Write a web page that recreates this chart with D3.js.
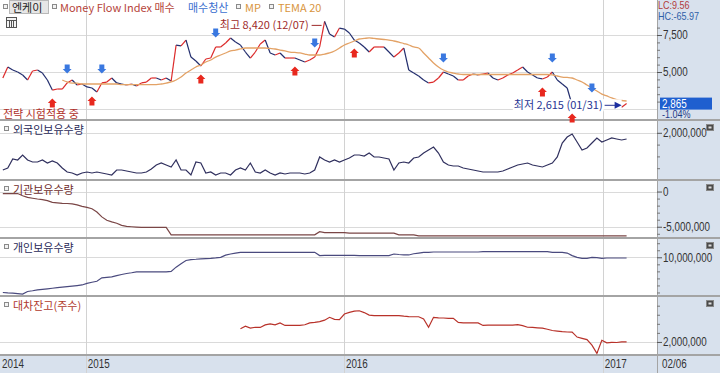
<!DOCTYPE html>
<html>
<head>
<meta charset="utf-8">
<script src="https://cdn.jsdelivr.net/npm/d3@7"></script>
<style>
  body { margin: 0; background: #fff; }
  svg { display: block; }
  .kr { font-family: "Noto Sans CJK KR", sans-serif; font-size: 11px; }
  .num { font-family: "Liberation Sans", sans-serif; font-size: 12px; }
</style>
</head>
<body>
<svg id="chart" width="720" height="373"></svg>
<script>
// weekly closes of 엔케이, last week ends 2017-02-03
const closes = [
  4595, 5340, 5135, 5000, 4800, 4460, 5070, 5135, 4930, 4460,
  3780, 3850, 3850, 4260, 4460, 4120, 4190, 3990, 3920, 3650,
  4260, 4320, 4595, 4260, 4190, 4120, 4190, 4050, 4260, 4320,
  4595, 4595, 4460, 4595, 4390, 6820, 6760, 7160, 6010, 5740,
  5405, 5880, 5945, 6690, 6690, 6960, 7300, 7030, 6820, 6350,
  5945, 6350, 6890, 7160, 6285, 6150, 6285, 5945, 5945, 5945,
  5810, 5675, 5810, 6010, 6690, 8420, 7570, 7365, 7970, 7900,
  7635, 7160, 6960, 6690, 6350, 6690, 6690, 6690, 6350, 6010,
  6285, 6620, 5135, 4930, 4730, 4460, 4260, 4320, 4595, 5000,
  4865, 4730, 4460, 4460, 4730, 4865, 4800, 4865, 4930, 4595,
  4460, 4595, 4800, 4930, 5135, 5340, 5000, 4800, 4595, 4530,
  4660, 5000, 4460, 4190, 3920, 2770, 2970, 3040, 2905, 2970,
  3040, 2840, 2905, 2840, 2760, 2615, 2865
];

// TEMA 20 (starts after warm-up)
const tema = Array(12).fill(null).concat([
  4460, 4325, 4255, 4255, 4190, 4190, 4190, 4190, 4190, 4190,
  4190, 4190, 4150, 4150, 4150, 4150, 4150, 4150, 4150, 4150,
  4190, 4255, 4325, 4460, 4660, 4930, 5135, 5340, 5475, 5675,
  5810, 6010, 6150, 6285, 6420, 6485, 6555, 6620, 6620, 6620,
  6620, 6620, 6590, 6555, 6485, 6420, 6350, 6320, 6285, 6215,
  6150, 6150, 6150, 6215, 6285, 6420, 6620, 6825, 6960, 7095,
  7230, 7265, 7300, 7265, 7230, 7195, 7160, 7095, 7025, 6925,
  6825, 6690, 6620, 6285, 5945, 5610, 5340, 5135, 5000, 4930,
  4865, 4830, 4830, 4830, 4830, 4830, 4830, 4830, 4830, 4830,
  4830, 4830, 4830, 4830, 4830, 4830, 4830, 4830, 4830, 4800,
  4730, 4660, 4630, 4595, 4460, 4325, 4120, 3920, 3715, 3510,
  3380, 3245, 3140, 3075, 3040
]);

const foreignHold = [
  424000, 508000, 890000, 847000, 1059000, 847000, 763000, 763000, 847000, 720000,
  805000, 720000, 508000, 339000, 297000, 212000, 297000, 339000, 297000, 339000,
  297000, 254000, 212000, 424000, 424000, 381000, 339000, 297000, 297000, 339000,
  466000, 636000, 720000, 636000, 551000, 847000, 424000, 424000, 212000, 763000,
  720000, 297000, 339000, 212000, 297000, 297000, 212000, 424000, 508000, 424000,
  720000, 339000, 297000, 424000, 297000, 212000, 297000, 254000, 297000, 297000,
  297000, 254000, 297000, 424000, 975000, 847000, 763000, 847000, 763000, 847000,
  932000, 1059000, 1059000, 1017000, 1144000, 975000, 975000, 932000, 890000, 424000,
  720000, 763000, 720000, 932000, 975000, 1144000, 1271000, 1398000, 1144000, 763000,
  636000, 593000, 593000, 508000, 466000, 424000, 381000, 339000, 339000, 339000,
  339000, 381000, 466000, 551000, 636000, 678000, 720000, 636000, 593000, 551000,
  636000, 720000, 975000, 1568000, 1822000, 1950000, 1610000, 1271000, 1356000, 1568000,
  1780000, 1610000, 1695000, 1780000, 1737000, 1695000, 1737000
];

const instHold = [
  -280000, -280000, -280000, -280000, -600000, -830000, -950000, -1060000, -1150000, -1300000,
  -1530000, -1600000, -1670000, -1700000, -1750000, -1900000, -2100000, -2250000, -2450000, -2900000,
  -3600000, -4070000, -4300000, -4500000, -4800000, -4950000, -5000000, -5050000, -5100000, -5100000,
  -5100000, -5100000, -5100000, -5100000, -6150000, -6150000, -6150000, -6150000, -6150000, -6150000,
  -6150000, -6150000, -6150000, -6150000, -6150000, -6150000, -6150000, -6150000, -6150000, -6150000,
  -6150000, -6150000, -6150000, -6150000, -6150000, -6150000, -6150000, -6150000, -6150000, -6150000,
  -6150000, -6150000, -6150000, -6150000, -5700000, -5830000, -5830000, -5830000, -5830000, -5830000,
  -5920000, -5920000, -5920000, -5920000, -5920000, -5920000, -5920000, -5920000, -5920000, -5920000,
  -6150000, -6150000, -6150000, -6150000, -6300000, -6300000, -6300000, -6300000, -6300000, -6300000,
  -6300000, -6300000, -6300000, -6300000, -6300000, -6300000, -6300000, -6300000, -6300000, -6300000,
  -6300000, -6300000, -6300000, -6300000, -6300000, -6300000, -6300000, -6300000, -6300000, -6300000,
  -6300000, -6300000, -6300000, -6300000, -6300000, -6300000, -6300000, -6300000, -6300000, -6300000,
  -6300000, -6300000, -6300000, -6300000, -6300000, -6300000, -6300000
];

const indivHold = [
  5000000, 4950000, 4920000, 4850000, 4780000, 5140000, 5250000, 5380000, 5450000, 5520000,
  5600000, 5680000, 5750000, 5830000, 5900000, 5980000, 6070000, 6300000, 6450000, 6600000,
  7080000, 7150000, 7220000, 7400000, 7550000, 7700000, 7800000, 7920000, 7920000, 7920000,
  7920000, 7920000, 7920000, 7920000, 8000000, 8600000, 9080000, 9540000, 9680000, 9720000,
  9780000, 9820000, 9860000, 9920000, 10000000, 10300000, 10470000, 10600000, 10700000, 10700000,
  10700000, 10700000, 10700000, 10700000, 10700000, 10700000, 10700000, 10700000, 10700000, 10700000,
  10700000, 10700000, 10700000, 10700000, 10240000, 10280000, 10280000, 10280000, 10280000, 10280000,
  10280000, 10280000, 10240000, 10240000, 10240000, 10240000, 10240000, 10240000, 10240000, 10470000,
  10400000, 10350000, 10330000, 10500000, 10600000, 10700000, 10700000, 10750000, 10750000, 10750000,
  10750000, 10750000, 10750000, 10750000, 10750000, 10750000, 10750000, 10800000, 10800000, 10800000,
  10800000, 10800000, 10800000, 10800000, 10800000, 10800000, 10800000, 10800000, 10800000, 10800000,
  10800000, 10700000, 10700000, 10700000, 10600000, 10240000, 10000000, 9860000, 9860000, 10000000,
  9950000, 9860000, 9900000, 9900000, 9900000, 9900000, 9900000
];

// 대차잔고 starts in Aug 2015
const lendBal = Array(48).fill(null).concat([
  2730000, 2870000, 2760000, 2810000, 2800000, 2940000, 3000000, 2940000, 3050000, 2910000,
  2910000, 2920000, 2910000, 2950000, 3050000, 3080000, 3120000, 3200000, 3360000, 3250000,
  3230000, 3540000, 3630000, 3700000, 3720000, 3620000, 3480000, 3450000, 3450000, 3450000,
  3450000, 3450000, 3450000, 3420000, 3400000, 3390000, 3390000, 3270000, 2810000, 3360000,
  3330000, 3320000, 3300000, 3300000, 3080000, 3050000, 3050000, 3050000, 3050000, 2910000,
  2930000, 2930000, 2930000, 2930000, 2930000, 2930000, 2960000, 2900000, 2810000, 2800000,
  2780000, 2760000, 2700000, 2630000, 2600000, 2570000, 2550000, 2540000, 2270000, 2200000,
  2130000, 1820000, 1370000, 2090000, 1950000, 1980000, 1970000, 2000000, 2000000
]);

const buyIdx = [10, 18, 40, 59, 71, 109, 115];   // Money Flow Index 매수
const sellIdx = [13, 20, 43, 63, 89, 111, 119];  // 매수청산
const yearTicks = [2015, 2016, 2017];
const priceTicks = [5000, 7500];
const lastDate = new Date(2017, 1, 3);
const dates = closes.map((_, i) => d3.timeDay.offset(lastDate, -7 * (closes.length - 1 - i)));

const svg = d3.select("#chart");
const W = 720, H = 373, plotR = 657;
const fmt = v => d3.format(",")(v).replace("\u2212", "-");

const x = d3.scaleTime()
  .domain([new Date(2014, 8, 1), new Date(2017, 2, 18)])
  .range([0, plotR]);

const yPrice = d3.scaleLinear().domain([2500, 7500]).range([109, 35]);
const yForeign = d3.scaleLinear().domain([0, 2500000]).range([180, 121]);
const yInst = d3.scaleLinear().domain([-6600000, 1500000]).range([238, 181]);
const yIndiv = d3.scaleLinear().domain([4500000, 12600000]).range([296, 239]);
const yLend = d3.scaleLinear().domain([1280000, 4480000]).range([355, 297]);

const panels = [
  { top: 0, bottom: 120, y: yPrice, grid: [2500, 5000, 7500] },
  { top: 121, bottom: 180, y: yForeign, grid: [2000000], title: "외국인보유수량", tc: "#2a2a58" },
  { top: 181, bottom: 238, y: yInst, grid: [0, -5000000], title: "기관보유수량", tc: "#6e2c2c" },
  { top: 239, bottom: 296, y: yIndiv, grid: [10000000], title: "개인보유수량", tc: "#2a2a58" },
  { top: 297, bottom: 355, y: yLend, grid: [2000000], title: "대차잔고(주수)", tc: "#b0392c" }
];

// backgrounds
svg.append("rect").attr("x", plotR).attr("y", 0).attr("width", W - plotR).attr("height", H).attr("fill", "#d8e1ed");
svg.append("rect").attr("x", 0).attr("y", 355).attr("width", W).attr("height", H - 355).attr("fill", "#d8e1ed");

// grid lines
panels.forEach(p => {
  const g = svg.append("g").attr("stroke", "#dadada").attr("stroke-width", 1);
  p.grid.forEach(v => {
    g.append("line").attr("x1", 0).attr("x2", plotR)
      .attr("y1", Math.round(p.y(v)) + 0.5).attr("y2", Math.round(p.y(v)) + 0.5);
  });
});
yearTicks.forEach(yr => {
  const xx = Math.round(x(new Date(yr, 0, 1))) + 0.5;
  svg.append("line").attr("x1", xx).attr("x2", xx).attr("y1", 0).attr("y2", H)
    .attr("stroke", "#d2d2d2");
});

// panel borders
[120, 180, 238, 296, 355].forEach(yy => {
  svg.append("line").attr("x1", 0).attr("x2", W).attr("y1", yy).attr("y2", yy)
    .attr("stroke", "#a4a4a4").attr("stroke-width", 2);
});
svg.append("line").attr("x1", plotR + 0.5).attr("x2", plotR + 0.5).attr("y1", 0).attr("y2", H)
  .attr("stroke", "#a4a4a4");

// right axes
function rightAxis(scale, values, minor) {
  const g = svg.append("g").attr("transform", `translate(${plotR},0)`);
  g.append("g").call(d3.axisRight(scale).tickValues(minor).tickSize(3).tickFormat(""))
    .call(a => a.select(".domain").remove())
    .selectAll("line").attr("stroke", "#777");
  g.append("g").attr("class", "num")
    .call(d3.axisRight(scale).tickValues(values).tickSize(5).tickPadding(1).tickFormat(fmt))
    .call(a => a.select(".domain").remove())
    .call(a => a.selectAll("line").attr("stroke", "#555"))
    .call(a => a.selectAll("text").attr("fill", "#333").style("font-size", "12px")
      .style("font-family", '"Liberation Sans", sans-serif'));
}
rightAxis(yPrice, priceTicks, d3.range(3000, 8500, 500));
rightAxis(yForeign, [2000000], [500000, 1000000, 1500000]);
rightAxis(yInst, [0, -5000000], [-4000000, -3000000, -2000000, -1000000, -6000000]);
rightAxis(yIndiv, [10000000], [5000000, 6000000, 7000000, 8000000, 9000000, 11000000, 12000000]);
rightAxis(yLend, [2000000], [2500000, 3000000, 3500000, 4000000]);

// price line: segments coloured by direction like candles
svg.append("g").selectAll("line")
  .data(d3.pairs(d3.range(closes.length)))
  .join("line")
  .attr("x1", ([a]) => x(dates[a]))
  .attr("y1", ([a]) => yPrice(closes[a]))
  .attr("x2", ([, b]) => x(dates[b]))
  .attr("y2", ([, b]) => yPrice(closes[b]))
  .attr("stroke", ([a, b]) => closes[b] >= closes[a] ? "#dc2a2a" : "#232e6e")
  .attr("stroke-width", 1.2);

svg.append("path")
  .datum(tema)
  .attr("fill", "none")
  .attr("stroke", "#e3a266")
  .attr("stroke-width", 1.3)
  .attr("d", d3.line()
    .defined(d => d != null)
    .x((d, i) => x(dates[i]))
    .y(d => yPrice(d))
    .curve(d3.curveMonotoneX));

// signal arrows
function arrowPath(cx, cy, up) {
  const s = up ? 1 : -1;
  return `M${cx},${cy - 4.5 * s} L${cx + 4.5},${cy} L${cx + 2.5},${cy} L${cx + 2.5},${cy + 4.5 * s}` +
         ` L${cx - 2.5},${cy + 4.5 * s} L${cx - 2.5},${cy} L${cx - 4.5},${cy} Z`;
}
svg.append("g").selectAll("path").data(buyIdx).join("path")
  .attr("d", i => arrowPath(x(dates[i]), yPrice(closes[i]) + 13, true))
  .attr("fill", "#e8281e");
svg.append("g").selectAll("path").data(sellIdx).join("path")
  .attr("d", i => arrowPath(x(dates[i]), yPrice(closes[i]) - 14, false))
  .attr("fill", "#3a78e0");

// high / low labels (with white backing like the HTS)
function label(xEnd, yMid, txt, color) {
  const bg = svg.append("rect").attr("fill", "#fff");
  const t = svg.append("text").attr("class", "kr").attr("x", xEnd).attr("y", yMid + 4)
    .attr("text-anchor", "end").attr("fill", color).text(txt);
  const b = t.node().getBBox();
  bg.attr("x", b.x - 1).attr("y", yMid - 6).attr("width", b.width + 2).attr("height", 12);
}
const hiIdx = d3.maxIndex(closes), loIdx = d3.minIndex(closes);
const hx = x(dates[hiIdx]), hy = yPrice(closes[hiIdx]) + 4;
label(hx - 16, hy, "최고 8,420 (12/07)", "#9e2a2a");
svg.append("line").attr("x1", hx - 13).attr("x2", hx - 3).attr("y1", hy).attr("y2", hy)
  .attr("stroke", "#9e2a2a");
const lx = x(dates[loIdx]), ly = yPrice(closes[loIdx]) - 2;
svg.append("rect").attr("x", lx - 19).attr("y", ly - 6).attr("width", 19).attr("height", 10).attr("fill", "#fff");
label(lx - 19, ly, "최저 2,615 (01/31)", "#283593");
svg.append("line").attr("x1", lx - 17).attr("x2", lx - 6).attr("y1", ly).attr("y2", ly)
  .attr("stroke", "#283593");
svg.append("path").attr("d", `M${lx - 7},${ly - 3.5} L${lx},${ly} L${lx - 7},${ly + 3.5} Z`).attr("fill", "#1c2ea0");

// sub panel lines
function drawLine(values, scale, color) {
  svg.append("path")
    .datum(values)
    .attr("fill", "none")
    .attr("stroke", color)
    .attr("stroke-width", 1.2)
    .attr("d", d3.line()
      .defined(d => d != null)
      .x((d, i) => x(dates[i]))
      .y(d => scale(d)));
}
drawLine(foreignHold, yForeign, "#30305e");
drawLine(instHold, yInst, "#7a4646");
drawLine(indivHold, yIndiv, "#4a4a7e");
drawLine(lendBal, yLend, "#b8322a");

// header legend
function sq(xx, yy) {
  svg.append("rect").attr("x", xx + 0.5).attr("y", yy + 0.5).attr("width", 4).attr("height", 4)
    .attr("fill", "#f2f2f2").attr("stroke", "#8a8a8a");
}
sq(3, 4);
svg.append("rect").attr("x", 9.5).attr("y", 0.5).attr("width", 39).attr("height", 13)
  .attr("fill", "#e6e6e6").attr("stroke", "#b8b8b8");
const legend = [
  { x: 12, t: "엔케이", c: "#222" },
  { x: 60, t: "Money Flow Index 매수", c: "#b5443a", sq: 52 },
  { x: 188, t: "매수청산", c: "#3b6fcf" },
  { x: 245, t: "MP", c: "#d9953e", sq: 236 },
  { x: 278, t: "TEMA 20", c: "#d9953e", sq: 269 }
];
legend.forEach(l => {
  if (l.sq) sq(l.sq, 4);
  svg.append("text").attr("class", "kr").attr("x", l.x).attr("y", 11.5).attr("fill", l.c).text(l.t);
});

// small table icon
const ic = svg.append("g").attr("stroke", "#555").attr("fill", "none");
ic.append("rect").attr("x", 6.5).attr("y", 17.5).attr("width", 10).attr("height", 10).attr("fill", "#f4f4f4");
ic.append("line").attr("x1", 6.5).attr("x2", 16.5).attr("y1", 20.5).attr("y2", 20.5);
[9.5, 11.5, 13.5].forEach(v => ic.append("line").attr("x1", v).attr("x2", v).attr("y1", 21).attr("y2", 27));

svg.append("text").attr("class", "kr").attr("x", 3).attr("y", 118).attr("fill", "#b0302a").text("전략 시험적용 중");

// panel titles and corner icons
panels.slice(1).forEach(p => {
  sq(4, p.top + 5);
  svg.append("text").attr("class", "kr").attr("x", 13).attr("y", p.top + 13).attr("fill", p.tc).text(p.title);
  svg.append("rect").attr("x", 706.5).attr("y", p.top + 3.5).attr("width", 7).attr("height", 6)
    .attr("fill", "#4a4a4a").attr("stroke", "#888");
  svg.append("rect").attr("x", 708.5).attr("y", p.top + 5.5).attr("width", 3).attr("height", 2).attr("fill", "#ddd");
});

// LC / HC, current price box
svg.append("text").attr("class", "num").attr("x", 658).attr("y", 9).style("font-size", "11px")
  .attr("fill", "#b23c3c").text("LC:9.56");
svg.append("text").attr("class", "num").attr("x", 658).attr("y", 19.5).style("font-size", "11px")
  .attr("fill", "#2f5fa8").text("HC:-65.97");
const last = closes[closes.length - 1];
const cy = yPrice(last);
svg.append("rect").attr("x", 660).attr("y", cy - 6).attr("width", 52).attr("height", 12).attr("fill", "#1f5fcf");
svg.append("text").attr("class", "num").attr("x", 662).attr("y", cy + 4.5).attr("fill", "#fff").text(fmt(last));
svg.append("text").attr("class", "num").attr("x", 662).attr("y", cy + 14.5).style("font-size", "11px")
  .attr("fill", "#1f3c88").text("-1.04%");

// x axis labels
const xl = svg.append("g").attr("class", "num").attr("fill", "#333");
xl.append("text").attr("x", 2).attr("y", 368).text("2014");
yearTicks.forEach(yr => {
  xl.append("text").attr("x", x(new Date(yr, 0, 1)) + 1.5).attr("y", 368).text(yr);
});
xl.append("text").attr("x", 662).attr("y", 368).text("02/06");

// the HTS numbers use a narrow face: squeeze the glyphs
svg.selectAll("text.num, .num text").each(function () {
  const w = this.getComputedTextLength();
  d3.select(this).attr("textLength", w * 0.82).attr("lengthAdjust", "spacingAndGlyphs");
});
</script>
</body>
</html>
